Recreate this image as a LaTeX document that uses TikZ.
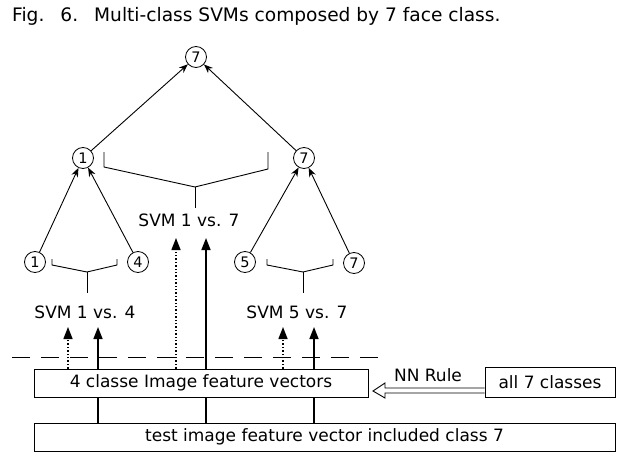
\documentclass[tikz,border=0pt]{standalone}
\usepackage{fontspec}
\setmainfont{DejaVu Sans}
\usetikzlibrary{arrows.meta,calc}
\begin{document}
\begin{tikzpicture}[x=1pt,y=-1pt,
  cls/.style={circle,draw,line width=0.8pt,minimum size=21pt,inner sep=0pt,font=\fontsize{14.5}{14.5}\selectfont},
  edge/.style={line width=0.9pt,-{Stealth[length=9pt,width=7pt]}},
  solidup/.style={line width=1.6pt,-{Triangle[length=12pt,width=9pt]}},
  dottedup/.style={line width=1.4pt,dotted,-{Triangle[length=12pt,width=9pt]}},
  brk/.style={line width=0.9pt},
  lbl/.style={font=\fontsize{17}{17}\selectfont,inner sep=0pt},
  box/.style={draw,line width=0.8pt,inner sep=0pt,font=\fontsize{17}{17}\selectfont},
]
\useasboundingbox (0,0) rectangle (626,452);
% title
\node[anchor=base west,inner sep=0pt,font=\fontsize{18.6}{18}\selectfont] (title) at (12,22)
  {Fig.\hspace{16pt}6.\hspace{16pt}Multi-class SVMs composed by 7 face class.};
% tree nodes
\node[cls] (t7) at (196,57) {7};
\node[cls] (m1) at (83,158) {1};
\node[cls] (m7) at (304,158) {7};
\node[cls] (b1) at (35,262) {1};
\node[cls] (b4) at (138,262) {4};
\node[cls] (b5) at (245,262) {5};
\node[cls] (b7) at (354,263) {7};
\draw[edge] (m1) -- (t7);
\draw[edge] (m7) -- (t7);
\draw[edge] (b1) -- (m1);
\draw[edge] (b4) -- (m1);
\draw[edge] (b5) -- (m7);
\draw[edge] (b7) -- (m7);
% brackets
\draw[brk] (104,152) -- (104,167) -- (195,187) -- (268,169) -- (268,152);
\draw[brk] (195,187) -- (195,208);
\draw[brk] (52,259) -- (52,265) -- (87,272) -- (117,265) -- (117,259);
\draw[brk] (87,272) -- (87,293);
\draw[brk] (267,259) -- (267,265) -- (303,272) -- (333,265) -- (333,259);
\draw[brk] (303,272) -- (303,293);
% labels
\node[lbl] (s17) at (189,220) {SVM 1 vs. 7};
\node[lbl] (s14) at (85,312) {SVM 1 vs. 4};
\node[lbl] (s57) at (297,312) {SVM 5 vs. 7};
% boxes
\node[box,minimum width=334pt,minimum height=28pt] (box1) at (201,383) {4 classe Image feature vectors};
\node[box,minimum width=581pt,minimum height=28pt] (box2) at (324.5,437) {test image feature vector included class 7};
\node[box,minimum width=130pt,minimum height=30pt] (all) at (550,382) {all 7 classes};
\node[lbl] (nn) at (428,375) {NN Rule};
% dashed separator
\draw[line width=0.8pt,dash pattern=on 18pt off 11pt] (12,357) -- (380,357);
% up arrows
\draw[dottedup] (box1.north -| 68,0) -- (68,327);
\draw[solidup] (box1.north -| 98,0) -- (98,327);
\draw[dottedup] (box1.north -| 176,0) -- (176,238);
\draw[solidup] (box1.north -| 206,0) -- (206,238);
\draw[dottedup] (box1.north -| 283,0) -- (283,327);
\draw[solidup] (box1.north -| 314,0) -- (314,327);
% connections between boxes
\draw[line width=1.6pt] (box2.north -| 98,0) -- (box1.south -| 98,0);
\draw[line width=1.6pt] (box2.north -| 206,0) -- (box1.south -| 206,0);
\draw[line width=1.6pt] (box2.north -| 314,0) -- (box1.south -| 314,0);
% NN rule hollow arrow
\draw[line width=0.9pt,fill=white] (all.west |- 0,388) -- (385,388) -- (385,383) -- (373,391) -- (385,398) -- (385,393) -- (all.west |- 0,393);
\end{tikzpicture}
\end{document}
